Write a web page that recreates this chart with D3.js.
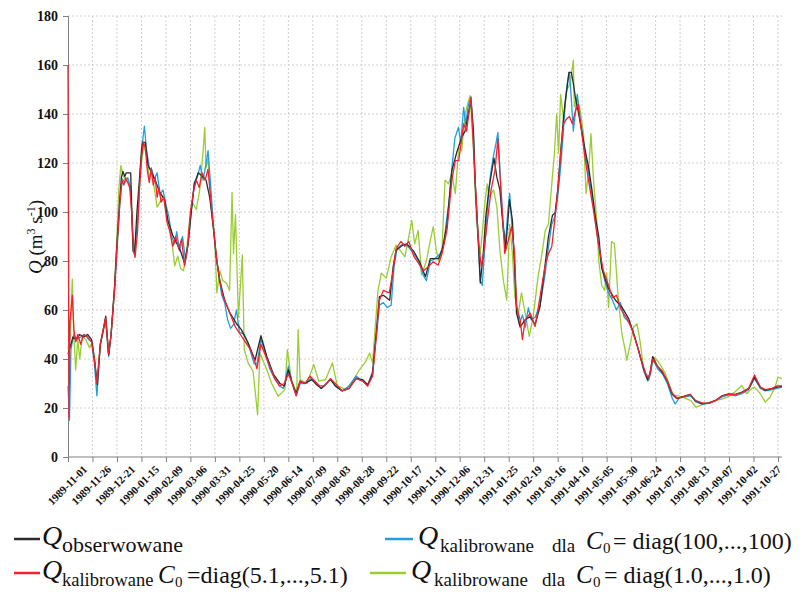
<!DOCTYPE html>
<html><head><meta charset="utf-8">
<script src="https://cdn.jsdelivr.net/npm/d3@7"></script>
<style>body{margin:0;background:#fff}svg{display:block}text{font-family:"Liberation Serif","Times New Roman",serif}</style>
</head><body><svg id="c" width="805" height="592"></svg>
<script>
// ---- data (day offset from 1989-11-01, discharge m3/s) ----
const tickLabels = ["1989-11-01","1989-11-26","1989-12-21","1990-01-15","1990-02-09","1990-03-06","1990-03-31","1990-04-25","1990-05-20","1990-06-14","1990-07-09","1990-08-03","1990-08-28","1990-09-22","1990-10-17","1990-11-11","1990-12-06","1990-12-31","1991-01-25","1991-02-19","1991-03-16","1991-04-10","1991-05-05","1991-05-30","1991-06-24","1991-07-19","1991-08-13","1991-09-07","1991-10-02","1991-10-27"];
const tickStepDays = 25;
const lastDay = 729;
const yTicks = [0,20,40,60,80,100,120,140,160,180];

const observed = [[0,42],[3,46],[5,49],[8,48],[12,50],[16,49],[20,50],[24,48],[27,40],[30,29.5],[33,46],[36,52],[38.5,57.5],[41.5,41.7],[44,50],[47.5,69],[50,87],[53,106],[54.5,114],[56,116.6],[58,114.5],[59.5,116],[64,116],[64.7,107],[66.4,84],[68,83.5],[70.5,100.6],[73,113.5],[75,125],[76,128.4],[79,128.4],[81.7,119],[86.8,115],[90,112],[93.6,108],[98.7,105],[102,96.6],[107,90.5],[112,86.4],[115,84],[119,79],[122.6,87],[126,100.5],[129,111.5],[133,116],[136,115],[141,113],[144.7,106],[148,95],[151.5,81.5],[155,72],[160,64],[165,59],[172,54.5],[177,52],[184,46.5],[191,39.5],[197,49.5],[203,41],[210,33.6],[216.5,30],[221,29],[225,35.6],[229,30],[233,26],[237,31],[242,30],[249,31.6],[254,29.5],[259,28],[268,31.6],[273,29],[280,27],[287,28],[294,32],[301,31.6],[306,29.5],[311,34],[315,52],[318,65.5],[322,66],[328.5,64],[332,77.6],[335,84.4],[342,86.5],[346,87],[353,84],[359,79.7],[365,73.6],[370,81],[378.5,81],[382,84.4],[387,95],[392,117],[397,124.4],[402,130.5],[405.5,133],[409,140.7],[411.5,145.4],[414,133],[415.7,113],[418.4,92.6],[421,71],[424,83],[426.6,98],[430,110],[435,122],[438,114],[441,109],[444.6,92.6],[447,85],[450.8,105],[453.8,96.6],[456,77.7],[458,58.7],[461.7,53],[466.8,56],[472,57.3],[477,54],[482,61.4],[487,77.7],[490.6,90],[494.7,98.7],[497.4,99.6],[500,108.8],[502.6,122],[506,138.6],[508,146],[510,152],[511.5,157],[514,157],[516,152.5],[518,147],[521,141],[524.7,132.8],[528,125.3],[531.5,118.5],[535,109],[538.5,98],[542,90],[545,77],[552,68.7],[559,64],[565.6,61.2],[572.5,56.5],[577.6,50.3],[582.7,43.5],[587.8,36],[592,31.5],[594.6,34.7],[597,41],[601.4,37.4],[606.5,34.7],[611.6,31.3],[616.7,25.8],[621.8,23.8],[627,24.5],[635.4,25.6],[640.5,23],[647.3,21.8],[654,22],[661,23],[667.8,25],[674.6,25.8],[681.4,25.6],[688.2,26.5],[695,27.9],[701,32.6],[707,28.5],[712,27.2],[719,27.9],[724,28.5],[729,28.8]];

const calib51 = [[0,160],[1,16],[2,55],[4.4,66],[6,52],[8,47],[10,50],[13,46],[16,50],[20,49],[24,47],[27,40],[29.5,30],[33,46],[36,52],[38.5,57],[41.5,42],[44,50],[47.5,68],[50,86],[53,104],[55,113],[57,111],[59,114],[61,112],[63,110],[65,100],[67,84],[68.5,81.5],[71,92],[73,110],[75,122],[77,128.5],[79,126],[81,117],[83,112],[85,118],[87,111],[89,114],[91,106],[93,110],[95,104],[98,106],[101,96],[104,92],[107,86],[110,90],[113,85],[116,89],[119,78],[122,85],[125,100],[128,108],[131,113],[134,110],[137,116],[140,113],[143,117.5],[146,104],[149,92],[152,80],[155,72],[158,66],[162,62],[166,58],[171,53],[176,50],[181,47],[186,44],[190,40],[193,36],[197,46],[201,42],[206,37],[211,32],[216,29],[221,30],[225,34],[229,30],[233,25],[237,31],[242,30],[247,33],[252,31],[257,29],[262,29],[268,32],[273,30],[280,27],[287,28],[294,32],[301,31],[306,29],[311,33],[315,50],[318,64],[322,68],[328,67],[332,76],[335,85],[340,88],[344,86],[348,88],[353,82],[358,79],[363,76],[368,77.7],[373,79.7],[378,78.3],[382,83],[387,92.6],[392,113],[395.5,121],[399,121],[404,136],[407,133],[411.5,146.8],[415.7,113],[419,88.5],[422,77.7],[424,81.7],[427.6,94],[432,109],[436,117],[439,130],[441,115.6],[443.6,99.4],[446,83],[449.6,88.5],[453,94],[456,83],[458,61.4],[461.7,56],[464,47.9],[466.8,56],[472,58.7],[477,53.3],[482,65.4],[487,77.7],[490.6,83],[494,85.8],[497.4,98],[500.8,111.5],[503,124],[506,136],[509,138],[512,139],[515,136],[518,141],[521,144],[524,134],[528,122],[531.5,113],[536.6,100.7],[541.6,87],[546.7,76],[552,70],[556,65],[560,66],[565,60],[570,57],[575,53],[580,47],[585,40],[590,34],[593,32],[597,40],[602,37],[607,35],[612,31],[617,26],[622,24],[628,24.5],[635,25.5],[641,23],[648,22],[655,22],[661,23],[668,25],[675,25.5],[682,25.5],[689,26.5],[695,28],[701,33.5],[707,28.5],[712,27.5],[719,28],[724,29],[729,29]];

const calib100 = [[0,29],[1.5,15],[3,44],[6,50],[9,48],[13,49],[17,50],[21,48],[24,47],[27,38],[29.5,25],[33,46],[36,52],[38.5,55],[41.5,41],[44,50],[47.5,68],[50,84],[53,104],[55.5,113.5],[58,112],[61,114],[64,110],[66,90],[68,83],[71,96],[74,118],[76.5,130],[78,135],[80,126],[83,118],[86,117],[88,113],[91,116],[94,107],[97,109],[100,103],[103,98],[106,90],[109,87],[111,92],[114,84],[117,90],[120,80],[123,88],[126,101],[129,112],[132,114],[135,119],[138,113],[141,120],[143,125],[145.5,112],[148,97],[151,83],[154,74],[157,66],[160,63],[163,56],[166,52.5],[169,54],[172,60],[175,51],[180,50],[185,45],[190,38],[193,38],[197,48],[201,43],[206,36],[211,32],[216,29],[220,28],[225,37],[229,30],[233,25],[237,30],[242,30],[248,32],[253,30],[258,28],[264,30],[268,32],[273,29],[280,27],[287,29],[294,33],[301,31],[306,29],[311,35],[315,50],[318,62],[322,63],[326,61],[330,62],[333,78],[336,85],[342,87],[347,86],[353,83],[358,80],[363,74],[366,72],[370,80],[375,81],[380,83],[384,87],[386,95],[389,104],[392,118],[395,130],[398.7,134.6],[401,128],[404,142.7],[406,136],[409,144],[411.5,147],[414,132],[416,110],[419,88],[421,72],[423,70],[425,82],[428,100],[431,114],[434,122],[437,128],[439,132.5],[441,118],[444,96],[447,88],[449,100],[451,107.6],[453,96],[456,80],[458,62],[461,54],[464,58],[467,53],[470,61],[473,56],[477,57],[482,62],[487,74],[490,84],[494,95],[497,98],[500,106],[503,118],[506,134],[508,146],[510,153],[512,157],[514,146],[516,133],[518,140],[520,148],[523,138],[526,130],[529,122],[533,112],[536,104],[540,92],[544,80],[548,72],[552,67],[556,64],[560,60],[564,63],[568,57],[573,55],[578,50],[583,43],[588,35],[592,31],[595,34],[597,40],[602,36],[607,34],[612,30],[617,24],[620,21.7],[624,24],[630,24.5],[636,25],[641,22.5],[648,21.5],[655,22],[661,23],[668,24.5],[675,25.5],[682,25],[689,26],[695,27.5],[701,32],[707,28],[712,27],[719,27.5],[724,28],[729,28.5]];

const calib10 = [[0,44],[2,48],[4.4,72.6],[6,50],[7.8,35.5],[10,48],[12,40],[14.6,49.5],[18,48],[22,44.6],[25,47],[29.5,30],[33,46],[36,51],[38.5,56],[41.5,42],[44,50],[47.5,70],[50,90],[52,110],[54,119],[56,115],[59,113],[62,112],[64,108],[66,92],[68,84],[71,96],[74,116],[77,127],[80,124],[83,114],[86,116],[88,110],[91,102],[94,104],[97,107],[100,100],[103,95],[106,88],[109,78],[112,82],[115,77],[118,76],[121,84],[124,96],[127,104],[131,101],[134.5,109],[138,125],[139.6,134.5],[141,118],[143,122],[146,104],[150,87],[152,67],[155,76],[158,72],[162,70.8],[165,68],[167.5,108],[169,83],[171,99],[174,57],[178,82.4],[180,43.8],[184,38.3],[189,35],[193.6,17.3],[196,42.4],[203,35.6],[208,30],[214.6,24.8],[221.5,27.5],[224,43.8],[228,31.6],[233.5,26],[235,52],[237,31.6],[244,30],[251,37.7],[256,31],[263,31.6],[270,38.4],[275,29],[284,27.5],[291,31],[297.6,35.6],[304,39],[308,42.4],[311,38.3],[316.5,68],[320,75],[325,73],[330,81.7],[335,86.5],[344,81.7],[347,87.8],[351,96.6],[354,87],[357.6,92.5],[361,74.3],[366,80],[370,88.5],[373,94],[376,84.4],[379,79.7],[382,85.8],[385,113],[388.5,111.5],[392,115.6],[395.5,107.5],[399,126.4],[402,125],[405.5,140],[410.5,147.5],[414,126],[417,96.6],[421,83],[422,87],[425.6,103.4],[428,111.5],[430,106],[434.5,109],[438,102],[441,84.4],[444.6,72],[448,64],[451,95],[453.8,83],[456.3,65.4],[460,58.7],[463,67],[466.8,58.7],[471,49.2],[475,57.3],[480,73.6],[484,83],[487.4,92.6],[490.6,95],[494,111.5],[496.7,124],[499,140],[501,124],[503,148],[506,138],[509.4,149.8],[512.8,152.5],[516,162],[517,143],[519.6,147],[523,141.5],[526.4,132],[529,107.6],[531.5,115.8],[534,132],[536.6,113],[540,95.7],[542,80],[545,70],[548,68],[550,75],[552,61],[555,88],[558,87],[562,64],[565.6,50.3],[569,43.5],[570.6,39.4],[574,46],[577.6,53],[581,54.4],[584,47.6],[588,35.4],[593,31.3],[598,40.8],[603,38.8],[610,34],[618,25],[623,25],[630,24],[636,23],[641,20.4],[650,21.7],[660,23],[667,23.5],[674,24.5],[681,26.5],[688,29.2],[693,25.8],[698,27.9],[701,28.5],[707,25.8],[712,22.4],[717,24.5],[722,28.5],[725,32.6],[729,32]];

const seriesNames = ["calib10","calib100","observed","calib51"];
const seriesColors = {observed:"#2b2b2b", calib51:"#f5222d", calib100:"#1ea0e0", calib10:"#9acd32"};

// ---- drawing ----
const svg = d3.select("#c");
const M = {left:68, right:782, top:16, bottom:457};
const x = d3.scaleLinear().domain([0,lastDay]).range([M.left, M.left + lastDay*(710/725)]);
const y = d3.scaleLinear().domain([0,180]).range([M.bottom, M.top]);
const tickDays = tickLabels.map((d,i)=>i*tickStepDays);
// rotated category labels are spread slightly tighter than the ticks
const labelX = d3.scalePoint().domain(tickLabels).range([88, 782]);

// grid
const g = svg.append("g");
g.selectAll(".hg").data(yTicks.filter(v=>v>0)).join("line")
  .attr("x1",M.left).attr("x2",M.right).attr("y1",d=>y(d)).attr("y2",d=>y(d))
  .attr("stroke","#cfcfcf").attr("stroke-width",1).attr("stroke-dasharray","2,2");
g.selectAll(".vg").data(tickDays.filter(d=>d>0)).join("line")
  .attr("x1",d=>x(d)).attr("x2",d=>x(d)).attr("y1",M.top).attr("y2",M.bottom)
  .attr("stroke","#cfcfcf").attr("stroke-width",1).attr("stroke-dasharray","2,2");

// axes
const yAxis = d3.axisLeft(y).tickValues(yTicks).tickSize(5).tickPadding(5);
const ya = svg.append("g").attr("transform",`translate(${M.left},0)`).call(yAxis);
ya.attr("font-family",null);
ya.select(".domain").attr("stroke","#808080");
ya.selectAll(".tick line").attr("stroke","#808080");
ya.selectAll("text").style("font-weight","bold").style("font-size","14px").attr("fill","#111");

const xAxis = d3.axisBottom(x).tickValues(tickDays).tickSize(5).tickFormat("");
const xa = svg.append("g").attr("transform",`translate(0,${M.bottom})`).call(xAxis);
xa.select(".domain").attr("stroke","#808080").attr("d",`M${M.left},0H${M.right}`);
xa.selectAll(".tick line").attr("stroke","#808080");
svg.append("g").selectAll("text").data(tickLabels).join("text")
  .attr("transform",d=>`translate(${labelX(d)},${M.bottom+13}) rotate(-45)`)
  .attr("text-anchor","end").style("font-weight","bold").style("font-size","11px").attr("fill","#111")
  .text(d=>d);

// y title
svg.append("text").attr("transform","translate(42,237) rotate(-90)").attr("text-anchor","middle")
  .style("font-size","19px").attr("fill","#111")
  .call(t=>{
    t.append("tspan").attr("font-style","italic").text("Q");
    t.append("tspan").text(" (m");
    t.append("tspan").style("font-size","12px").attr("dy","-7").text("3");
    t.append("tspan").attr("dy","7").text(" s");
    t.append("tspan").style("font-size","12px").attr("dy","-7").text("-1");
    t.append("tspan").attr("dy","7").text(")");
  });

// lines
const data = {observed, calib51, calib100, calib10};
const line = d3.line().x(d=>x(d[0])).y(d=>y(d[1]));
seriesNames.forEach(n=>{
  svg.append("path").datum(data[n]).attr("d",line).attr("fill","none")
    .attr("stroke",seriesColors[n]).attr("stroke-width",1.3).attr("stroke-linejoin","round");
});

// legend
const legendItems = [
  {key:"observed", x0:14, x1:40, base:545, qx:42, sub:"obserwowane", subx:62, subSize:22},
  {key:"calib51", x0:14, x1:40, base:579, qx:42, sub:"kalibrowane", subx:62, subSize:18.5, cx:158, c:"=diag(5.1,...,5.1)", dx:187},
  {key:"calib100", x0:385, x1:413, base:545, qx:418, sub:"kalibrowane", subx:440, subSize:19, dla:552, cx:586, c:"= diag(100,...,100)", dx:613},
  {key:"calib10", x0:370, x1:406, base:579, qx:411, sub:"kalibrowane", subx:434, subSize:19, dla:542, cx:576, c:"= diag(1.0,...,1.0)", dx:604}
];
legendItems.forEach(it=>{
  const lg = svg.append("g").attr("fill","#111");
  lg.append("line").attr("x1",it.x0).attr("x2",it.x1).attr("y1",it.base-6).attr("y2",it.base-6)
    .attr("stroke",seriesColors[it.key]).attr("stroke-width",2.5);
  lg.append("text").attr("x",it.qx).attr("y",it.base).style("font-style","italic").style("font-size","28px").text("Q");
  lg.append("text").attr("x",it.subx).attr("y",it.base+7).style("font-size",it.subSize+"px").text(it.sub);
  if(it.dla) lg.append("text").attr("x",it.dla).attr("y",it.base+7).style("font-size","19px").text("dla");
  if(it.c){
    lg.append("text").attr("x",it.cx).attr("y",it.base+4).style("font-style","italic").style("font-size","25px").text("C");
    lg.append("text").attr("x",it.cx+17).attr("y",it.base+8).style("font-size","15px").text("0");
    lg.append("text").attr("x",it.dx).attr("y",it.base+4).style("font-size","24px").text(it.c);
  }
});
</script></body></html>
